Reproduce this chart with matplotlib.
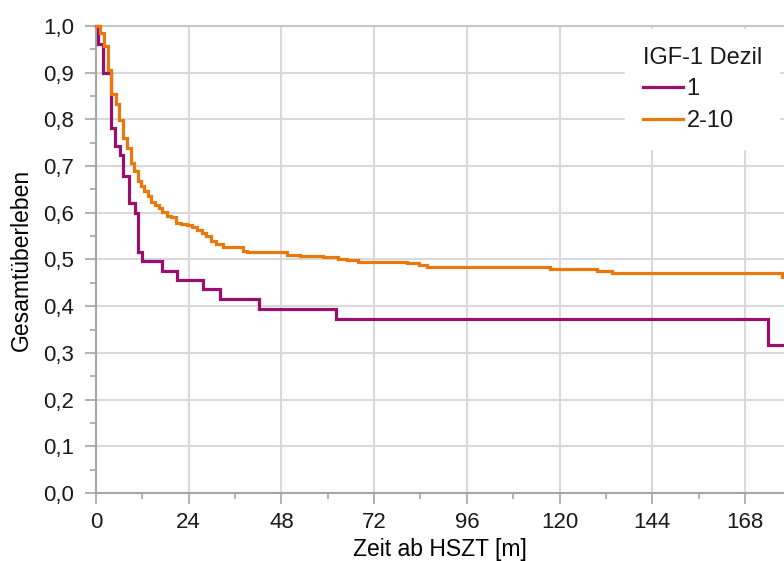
import matplotlib
matplotlib.use("Agg")
import matplotlib.pyplot as plt
import matplotlib.ticker as ticker

# Kaplan-Meier step data (months after HSZT, overall survival)
t_dezil1 = [0, 0.4, 1.9, 3.9, 4.9, 6.2, 7.1, 8.6, 10.1, 11.0, 12.0, 17.2, 20.9,
            27.8, 32.1, 42.3, 62.1, 173.9, 178.1]
s_dezil1 = [1.0, 0.961, 0.899, 0.781, 0.742, 0.724, 0.679, 0.620, 0.600, 0.517,
            0.497, 0.475, 0.456, 0.436, 0.415, 0.394, 0.373, 0.317, 0.317]

t_dezil2_10 = [0, 1.0, 2.2, 3.0, 3.9, 5.1, 6.0, 7.1, 8.1, 9.0, 9.9, 10.8, 11.6,
               12.5, 13.4, 14.2, 15.3, 16.3, 17.2, 18.3, 19.4, 20.6, 22.0, 23.5,
               24.8, 26.1, 27.4, 28.4, 29.8, 31.0, 33.0, 38.1, 39.0, 49.4, 52.8,
               58.8, 62.7, 64.9, 67.9, 80.6, 83.7, 85.6, 117.5, 129.6, 133.5,
               177.5, 178.1]
s_dezil2_10 = [1.0, 0.985, 0.958, 0.906, 0.854, 0.832, 0.799, 0.760, 0.738,
               0.707, 0.690, 0.669, 0.658, 0.647, 0.635, 0.624, 0.617, 0.610,
               0.601, 0.594, 0.590, 0.578, 0.576, 0.573, 0.569, 0.564, 0.557,
               0.550, 0.540, 0.534, 0.527, 0.519, 0.515, 0.510, 0.508, 0.505,
               0.502, 0.499, 0.495, 0.492, 0.488, 0.483, 0.479, 0.476, 0.472,
               0.463, 0.463]

x_ticks = [0, 24, 48, 72, 96, 120, 144, 168]

plt.rcParams['font.family'] = ['Liberation Sans', 'DejaVu Sans']

fig = plt.figure(figsize=(7.84, 5.61), dpi=100)
ax = fig.add_axes([96 / 784, 1 - 493 / 561, 688 / 784, 467 / 561])

ax.step(t_dezil1, s_dezil1, where='post', color='#990F6E', lw=2.3,
        label='1', zorder=3, clip_on=False, solid_joinstyle='miter')
ax.step(t_dezil2_10, s_dezil2_10, where='post', color='#E9790C', lw=2.3,
        label='2-10', zorder=3, clip_on=False, solid_joinstyle='miter')

ax.set_xlim(0, 178.1)
ax.set_ylim(0, 1.0)
ax.set_xticks(x_ticks)
ax.xaxis.set_minor_locator(ticker.MultipleLocator(12))
ax.yaxis.set_major_locator(ticker.MultipleLocator(0.1))
ax.yaxis.set_minor_locator(ticker.MultipleLocator(0.05))
ax.yaxis.set_major_formatter(ticker.FuncFormatter(lambda v, p: f"{v:.1f}".replace('.', ',')))

ax.grid(True, which='major', color='#D9D9D9', lw=1.5, zorder=0)
ax.set_axisbelow(True)

ax.spines['right'].set_visible(False)
for side in ['left', 'bottom']:
    ax.spines[side].set_color('#A6A6A6')
    ax.spines[side].set_linewidth(1.5)
ax.spines['top'].set_color('#C8C8C8')
ax.spines['top'].set_linewidth(1.5)

ax.tick_params(axis='both', which='major', direction='out', length=8, width=1.2,
               color='#A6A6A6', labelsize=16, labelcolor='#1A1A1A')
ax.tick_params(axis='y', which='major', pad=8)
ax.tick_params(axis='x', which='major', pad=6)
ax.tick_params(axis='both', which='minor', direction='out', length=4, width=1.2,
               color='#A6A6A6')

ax.set_xlabel('Zeit ab HSZT [m]', fontsize=16.5, labelpad=3)
ax.set_ylabel('Gesamtüberleben', fontsize=16.5, labelpad=7)

leg = ax.legend(title='IGF-1 Dezil', loc='upper left', bbox_to_anchor=(0.769, 0.994),
                fontsize=17, title_fontsize=17, alignment='left',
                frameon=True, fancybox=False, framealpha=1, borderpad=0.75,
                borderaxespad=0, handlelength=1.7, handletextpad=0.15,
                labelspacing=0.42)
leg.get_frame().set_facecolor('white')
leg.get_frame().set_edgecolor('none')
leg.get_title().set_color('#1A1A1A')
for txt in leg.get_texts():
    txt.set_color('#1A1A1A')
leg.set_zorder(5)

fig.savefig('out.png', dpi=100)
